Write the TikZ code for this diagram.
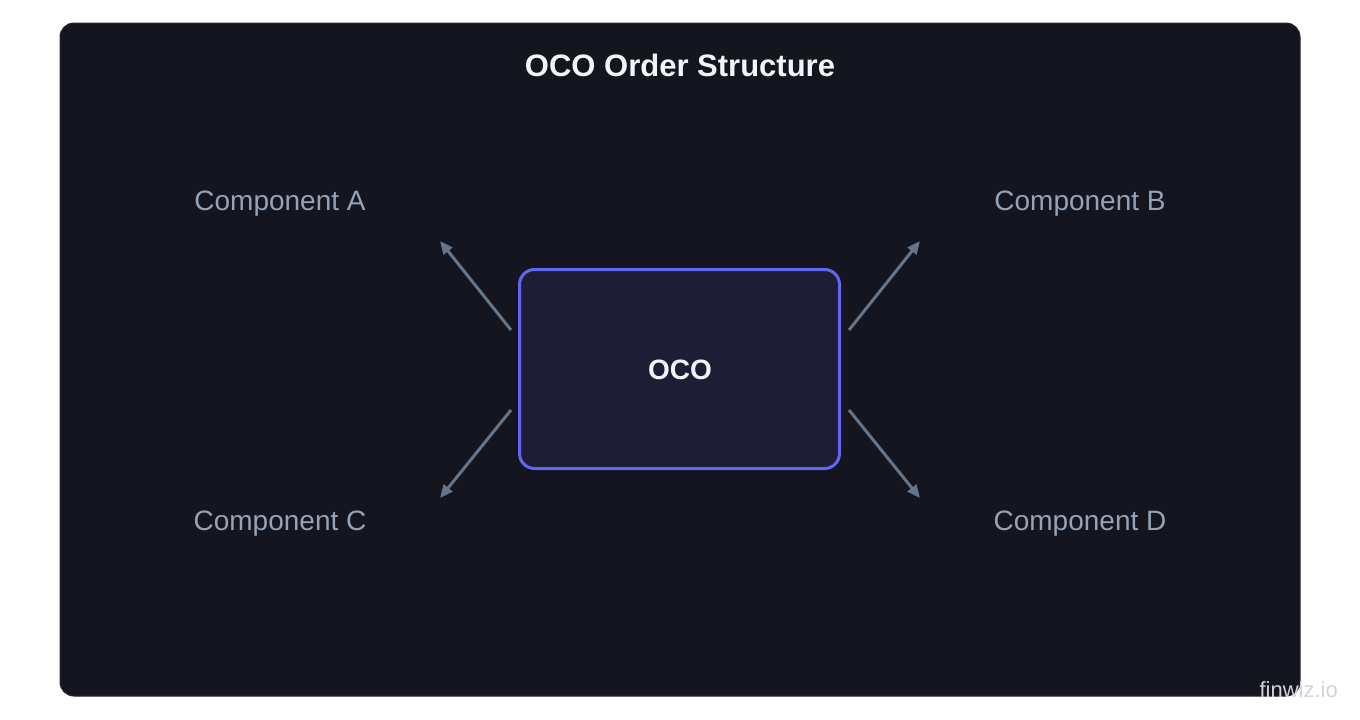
\documentclass[tikz,border=0pt]{standalone}
\usepackage{fontspec}
\setmainfont{Liberation Sans}
\usetikzlibrary{arrows.meta}
\definecolor{pagebg}{HTML}{FFFFFF}
\definecolor{panelbg}{HTML}{14151F}
\definecolor{panelborder}{HTML}{262734}
\definecolor{boxfill}{HTML}{1D1D35}
\definecolor{boxborder}{HTML}{6366F1}
\definecolor{titlecol}{HTML}{F1F5F9}
\definecolor{labelcol}{HTML}{94A3B8}
\definecolor{arrowcol}{HTML}{64748B}
\definecolor{markcol}{HTML}{D1D5DB}
\tikzset{
  complabel/.style={text=labelcol, font=\fontsize{28}{32}\selectfont, inner sep=0pt},
  connector/.style={draw=arrowcol, line width=3pt, -{Triangle[length=13pt,width=11pt]}},
  ocobox/.style={draw=boxborder, fill=boxfill, line width=3pt, rounded corners=15pt, minimum width=320pt, minimum height=199pt, inner sep=0pt}
}
\begin{document}
\begin{tikzpicture}[x=1pt,y=-1pt]
\useasboundingbox (0,0) rectangle (1360,720);
\fill[pagebg] (0,0) rectangle (1360,720);
\draw[panelborder, fill=panelbg, line width=1pt, rounded corners=14pt] (60,23) rectangle (1300,696);
\node[text=titlecol, font=\bfseries\fontsize{31}{36}\selectfont, inner sep=0pt] (title) at (680,65) {OCO Order Structure};
\node[ocobox] (oco) at (679.5,369) {};
\node[text=titlecol, font=\bfseries\fontsize{28}{32}\selectfont, inner sep=0pt] (ocolabel) at (680,370) {OCO};
\node[complabel] (compA) at (280,204) {Component A};
\node[complabel] (compB) at (1080,204) {Component B};
\node[complabel] (compC) at (280,524) {Component C};
\node[complabel] (compD) at (1080,524) {Component D};
\coordinate (sA) at (511,330);
\coordinate (sB) at (849,330);
\coordinate (sC) at (511,410);
\coordinate (sD) at (849,410);
\coordinate (eA) at (440,241);
\coordinate (eB) at (920,241);
\coordinate (eC) at (440,498);
\coordinate (eD) at (920,498);
\draw[connector] (sA) -- (eA);
\draw[connector] (sB) -- (eB);
\draw[connector] (sC) -- (eC);
\draw[connector] (sD) -- (eD);
\node[text=markcol, font=\fontsize{22}{26}\selectfont, inner sep=0pt, anchor=east] (mark) at (1338,690) {finwiz.io};
\end{tikzpicture}
\end{document}
